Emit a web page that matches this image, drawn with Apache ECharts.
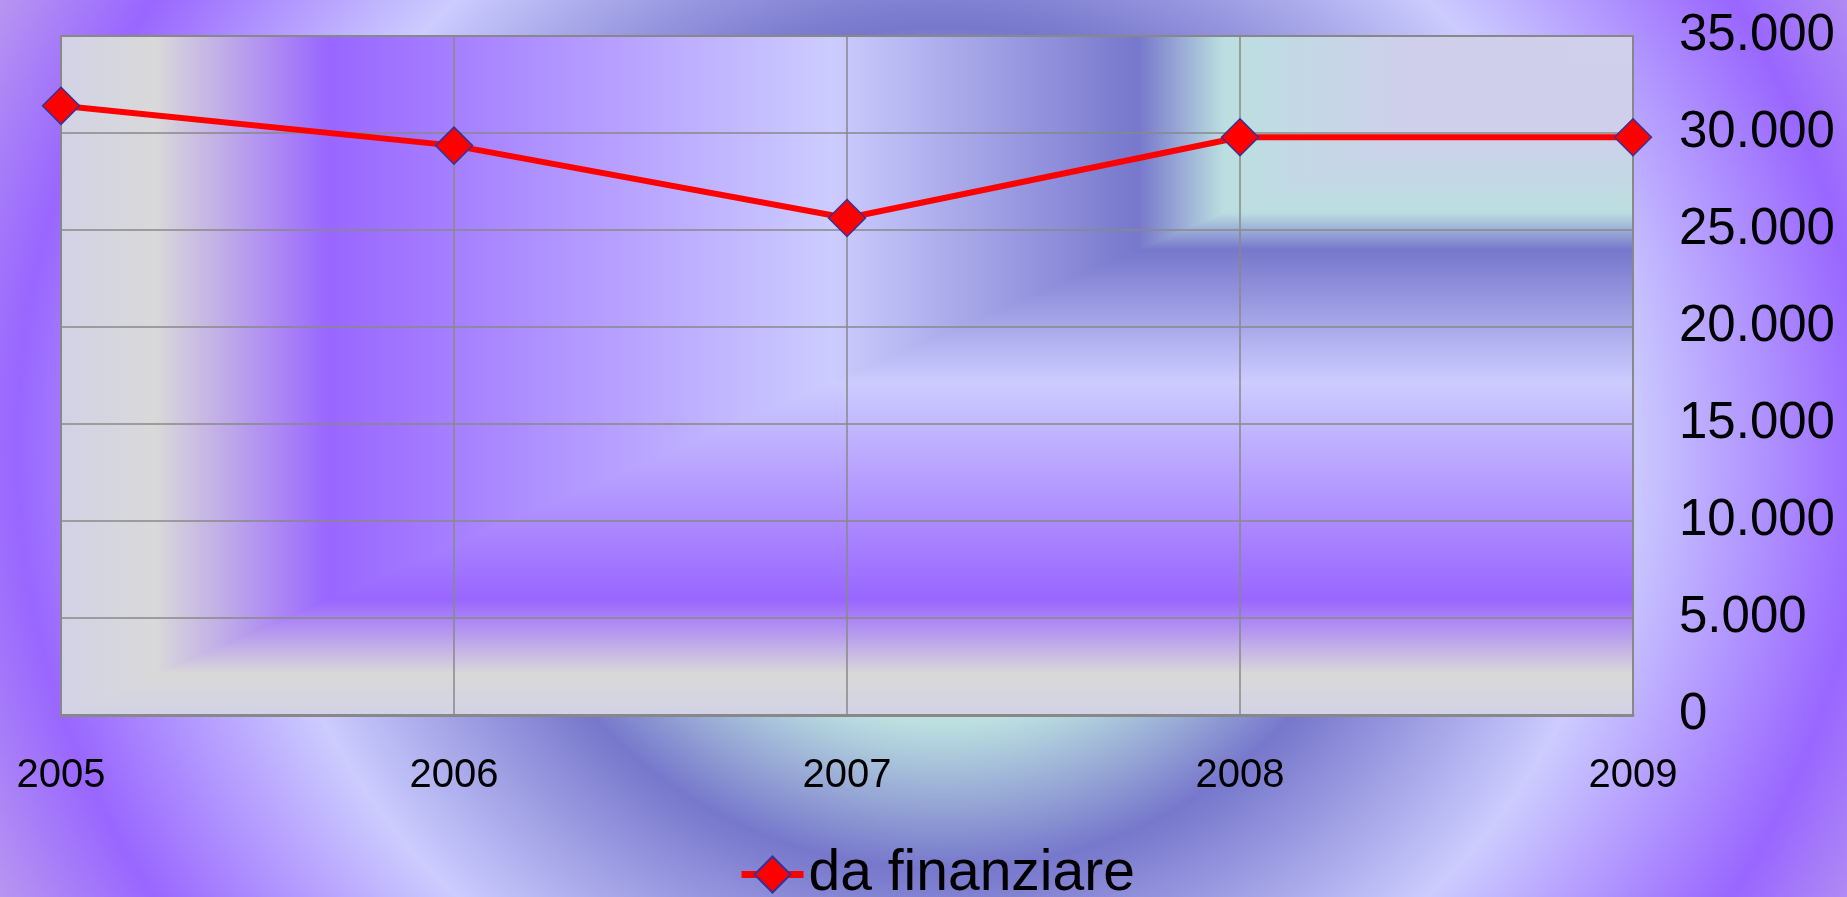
<!DOCTYPE html>
<html>
<head>
    <meta charset="utf-8"/>
    <title>da finanziare</title>
    <style>
        html, body {
            margin: 0;
            padding: 0;
        }

        #main {
            width: 1847px;
            height: 897px;
            background: radial-gradient(ellipse 925px 860px at 942px 448px,
                #bce0e0 0%, #bce0e0 32%, #7777cc 49%, #ccccff 74%, #9966ff 100%, #b898f0 115%);
        }
    </style>
</head>
<body>
<div id="main"></div>

<script src="https://cdn.jsdelivr.net/npm/echarts/dist/echarts.min.js"></script>
<script>
    // dati
    var anni = ['2005', '2006', '2007', '2008', '2009'];
    var daFinanziare = [31400, 29350, 25620, 29780, 29780];
    var nomeSerie = 'da finanziare';
    var yMax = 35000;
    var yPasso = 5000;

    var W = 1847, H = 897;
    var g = {left: 61, top: 36, right: 214, bottom: 182};
    var x0 = g.left, x1 = W - g.right, y0 = g.top, y1 = H - g.bottom;

    var font = "'Liberation Sans', Arial, sans-serif";

    // sfondo area del grafico: gradiente rettangolare con fuoco in alto a destra
    var stops = [
        {offset: 0, color: '#d2d2e6'},
        {offset: 0.06, color: '#d9d9d9'},
        {offset: 0.17, color: '#9966ff'},
        {offset: 0.49, color: '#ccccff'},
        {offset: 0.685, color: '#7777cc'},
        {offset: 0.74, color: '#bbdfe0'},
        {offset: 0.86, color: '#cfcfec'},
        {offset: 1, color: '#d0d0ec'}
    ];

    var myChart = echarts.init(document.getElementById('main'));

    var option = {
        backgroundColor: 'transparent',
        animation: false,
        graphic: [
            {
                // tutta l'area col gradiente orizzontale
                type: 'rect',
                z: -11,
                shape: {x: x0, y: y0, width: x1 - x0, height: y1 - y0},
                style: {fill: new echarts.graphic.LinearGradient(x0, 0, x1, 0, stops, true)}
            },
            {
                // triangolo in basso a destra col gradiente verticale
                type: 'polygon',
                z: -10,
                shape: {points: [[x0, y1], [x1, y0], [x1, y1]]},
                style: {fill: new echarts.graphic.LinearGradient(0, y1, 0, y0, stops, true)}
            }
        ],
        grid: {
            left: g.left,
            top: g.top,
            right: g.right,
            bottom: g.bottom,
            show: true,
            borderColor: '#888888',
            borderWidth: 2,
            backgroundColor: 'transparent'
        },
        legend: {
            data: [nomeSerie],
            left: 738,
            top: 846,
            padding: 0,
            itemWidth: 62,
            itemHeight: 45,
            lineStyle: {width: 7},
            textStyle: {
                color: '#000',
                fontSize: 57,
                fontFamily: font
            }
        },
        xAxis: {
            type: 'category',
            boundaryGap: false,
            data: anni,
            axisLine: {show: true, lineStyle: {color: '#888888', width: 3}},
            axisTick: {show: false},
            splitLine: {show: true, lineStyle: {color: '#888888', width: 1.5}},
            axisLabel: {
                color: '#000',
                fontSize: 40,
                fontFamily: font,
                margin: 41
            }
        },
        yAxis: {
            type: 'value',
            position: 'right',
            min: 0,
            max: yMax,
            interval: yPasso,
            axisLine: {show: false},
            axisTick: {show: false},
            splitLine: {show: true, lineStyle: {color: '#888888', width: 1.5}},
            axisLabel: {
                color: '#000',
                fontSize: 51,
                fontFamily: font,
                margin: 46,
                align: 'left',
                formatter: function (v) {
                    return v.toString().replace(/\B(?=(\d{3})+(?!\d))/g, '.');
                }
            }
        },
        series: [
            {
                name: nomeSerie,
                type: 'line',
                data: daFinanziare,
                symbol: 'diamond',
                symbolSize: 37,
                lineStyle: {color: '#ff0000', width: 6},
                itemStyle: {color: '#ff0000', borderColor: '#333399', borderWidth: 1.5},
                z: 5
            }
        ]
    };

    myChart.setOption(option);
</script>
</body>
</html>
